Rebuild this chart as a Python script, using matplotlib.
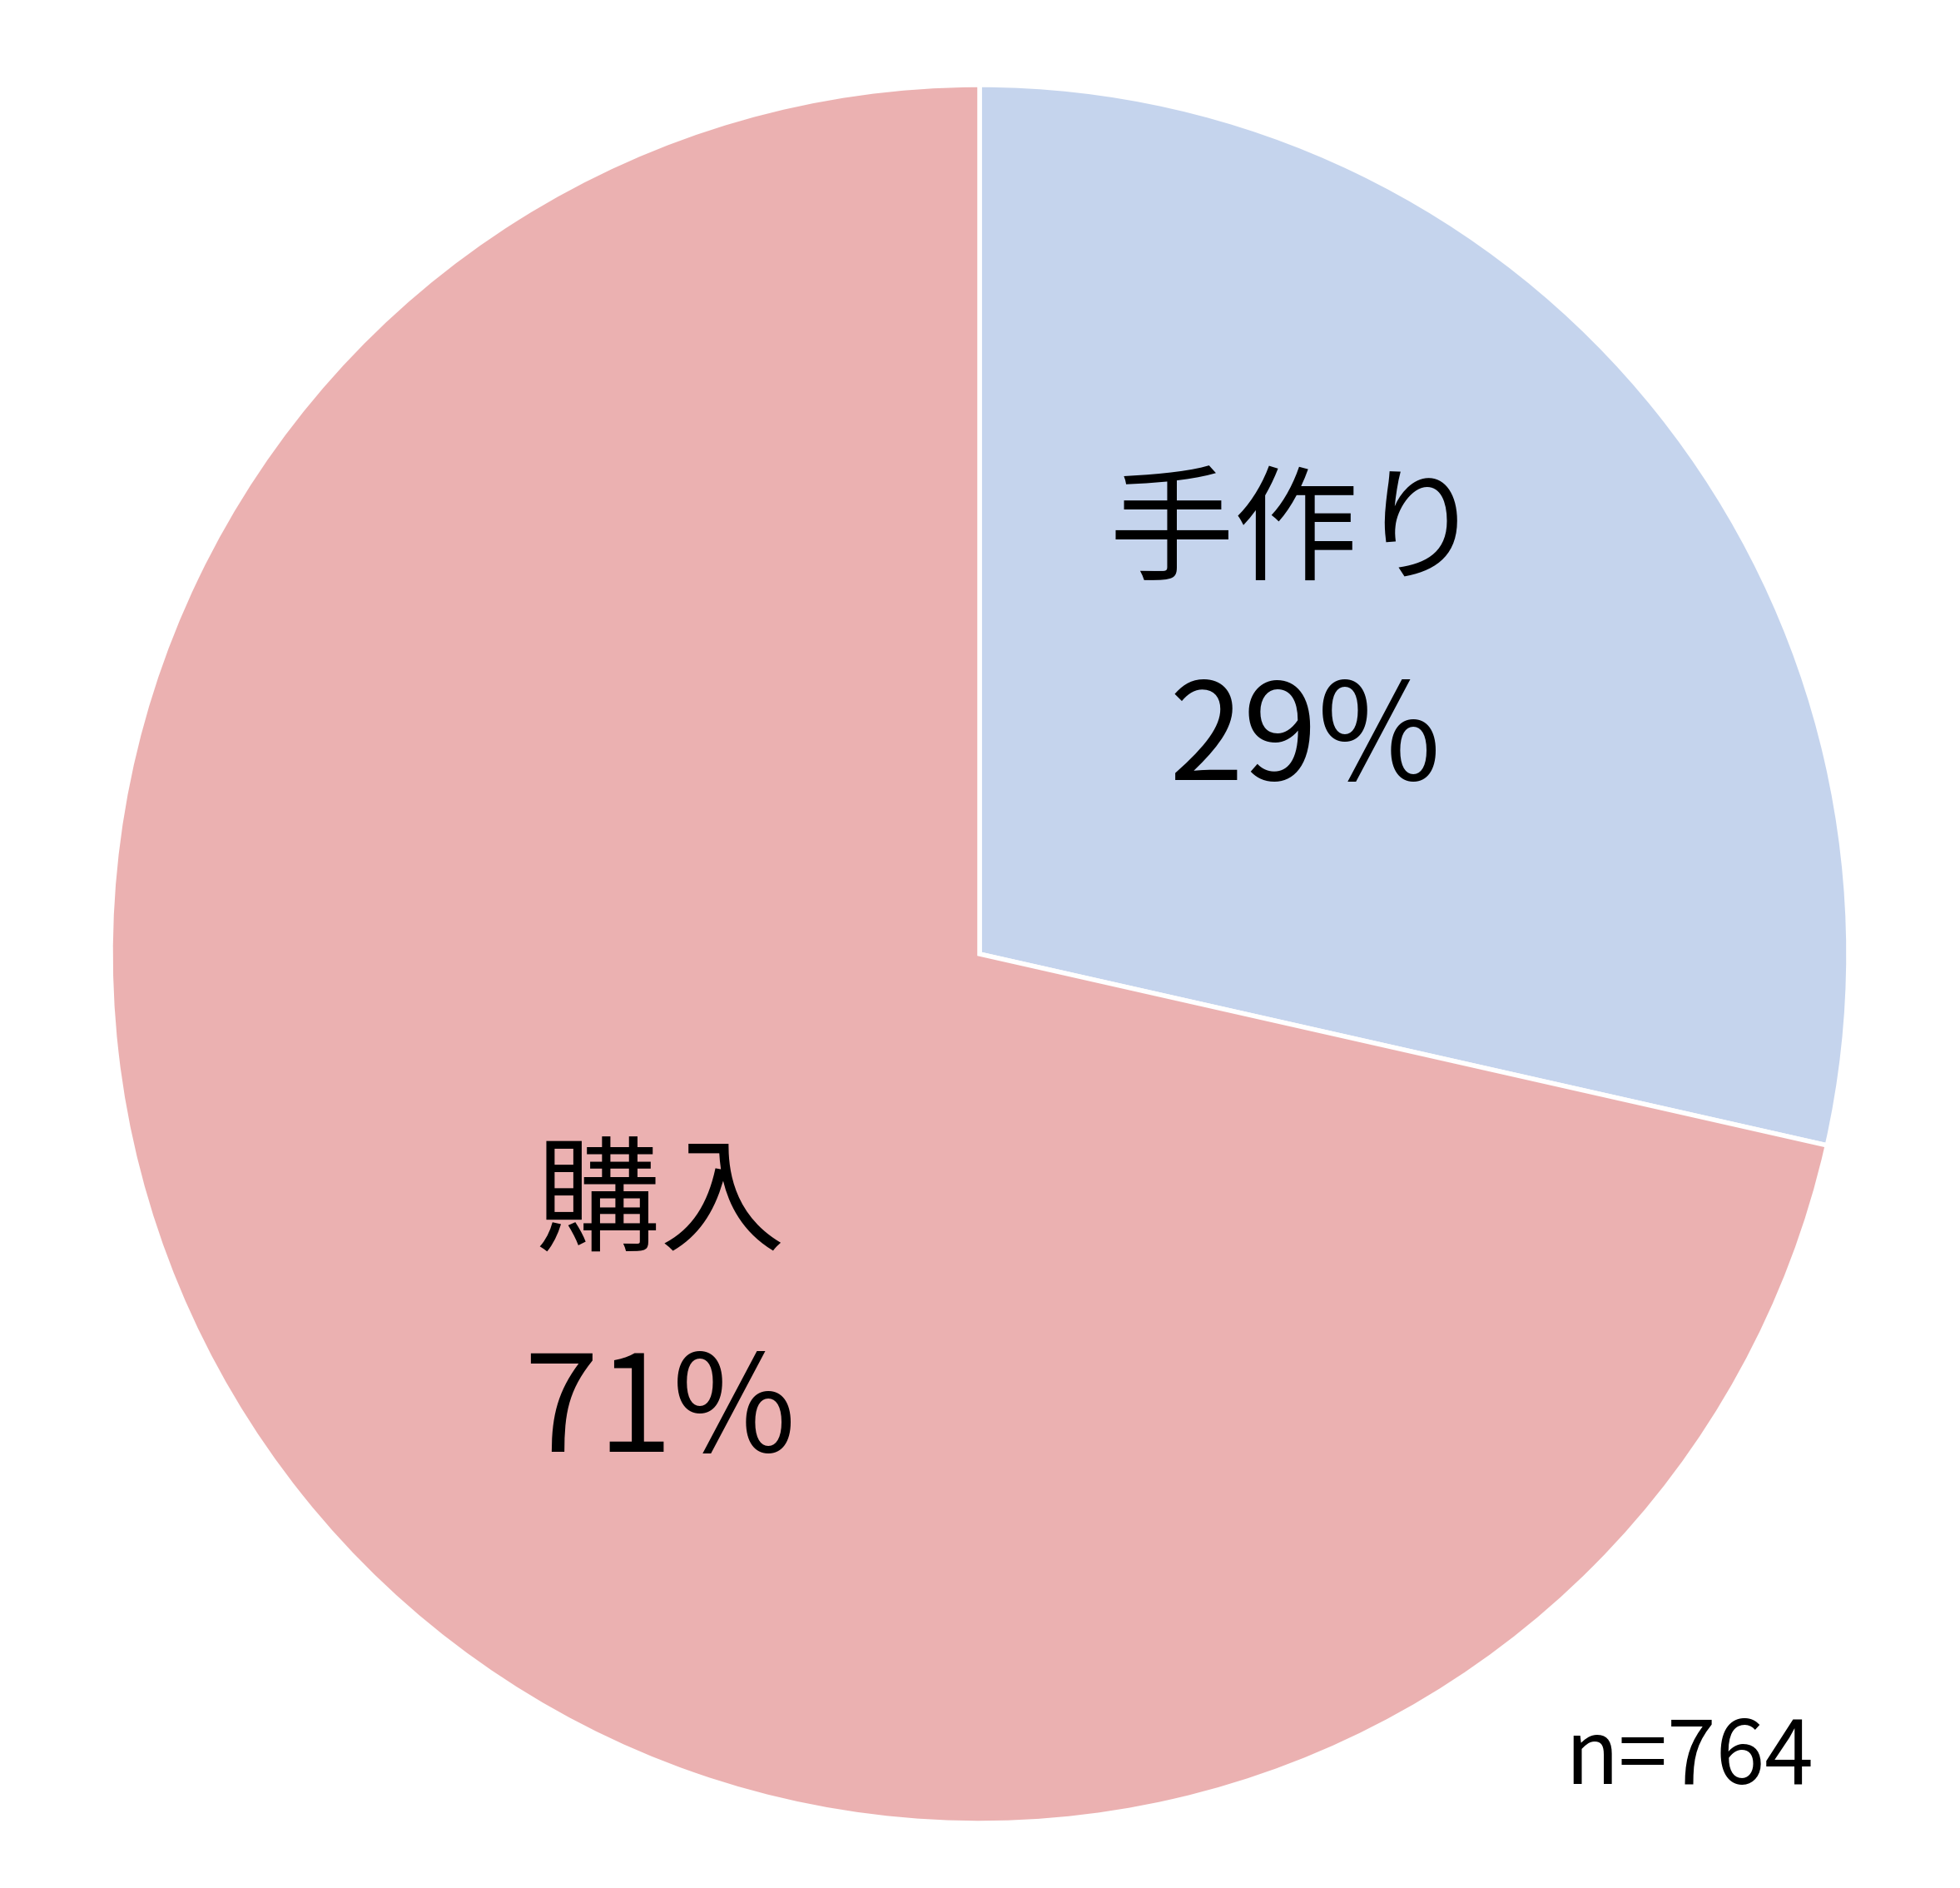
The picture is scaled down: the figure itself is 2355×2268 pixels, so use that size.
import matplotlib
matplotlib.use("Agg")
import matplotlib.pyplot as plt

labels = ["手作り", "購入"]
values = [218, 546]
colors = ["#C5D4ED", "#EBB1B1"]
n_total = 764

W, H = 2355, 2268
fig = plt.figure(figsize=(W / 100, H / 100), dpi=100)
ax = fig.add_axes([0, 0, 1, 1])

cx, cy, r = 1177, H - 1146, 1044
ax.pie(values, colors=colors, startangle=90, counterclock=False,
       center=(cx, cy), radius=r, frame=True,
       wedgeprops=dict(edgecolor="white", linewidth=4))
ax.set_xlim(0, W)
ax.set_ylim(0, H)
ax.set_aspect("equal")
ax.axis("off")

fam = ["Noto Sans CJK JP", "DejaVu Sans"]
total = sum(values)
pcts = [round(v / total * 100) for v in values]
label_pos = [((1557, H - 642), (1568, H - 891)), ((793, H - 1449), (793, H - 1698))]
for lab, p, (lp, pp) in zip(labels, pcts, label_pos):
    ax.text(lp[0], lp[1], lab, ha="center", va="center", fontsize=108, family=fam)
    t = ax.text(pp[0], pp[1], f"{p}%", ha="center", va="center", fontsize=116, family=fam)

ax.text(2030, H - 2113, f"n={n_total}", ha="center", va="center", fontsize=76, family=fam)

fig.savefig("out.png", dpi=100)
